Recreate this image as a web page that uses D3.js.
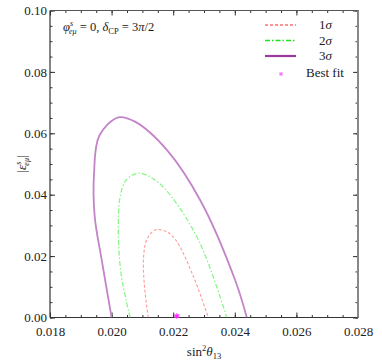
<!DOCTYPE html>
<html>
<head>
<meta charset="utf-8">
<script src="https://cdn.jsdelivr.net/npm/d3@7"></script>
<style>
body { margin: 0; background: #fff; }
svg text { font-family: "Liberation Serif", "DejaVu Serif", serif; }
</style>
</head>
<body>
<svg id="chart" width="382" height="363"></svg>
<script>
// contour points: [sin^2 theta13, |eps|]
var sigma1 = [[0.02119,0],[0.02106,0.0110],[0.02104,0.0200],[0.02115,0.0255],[0.02141,0.0285],
	[0.02178,0.0280],[0.02210,0.0250],[0.02265,0.0135],[0.02314,0]];
var sigma2 = [[0.02060,0],[0.02031,0.0140],[0.02022,0.0280],[0.02028,0.0395],
	[0.02047,0.0447],[0.02087,0.0470],[0.02141,0.0448],[0.02195,0.0393],
	[0.02287,0.0242],[0.02374,0]];
var sigma3 = [[0.02000,0],[0.01968,0.0187],[0.01945,0.0330],[0.01943,0.0470],
	[0.01960,0.0592],[0.02022,0.0652],[0.02076,0.0638],
	[0.02182,0.0543],[0.02290,0.0378],[0.02401,0.0122],[0.02439,0]];
var bestFit = [0.02212, 0];
var xTicks = [0.018, 0.020, 0.022, 0.024, 0.026, 0.028];
var yTicks = [0.00, 0.02, 0.04, 0.06, 0.08, 0.10];
var legendLabels = ["1σ", "2σ", "3σ"];

var svg = d3.select("svg#chart"),
	margin = {top: 10.5, right: 24, bottom: 45.5, left: 50},
	width = +svg.attr("width") - margin.left - margin.right,
	height = +svg.attr("height") - margin.top - margin.bottom;
var g = svg.append("g").attr("transform", "translate(" + margin.left + "," + margin.top + ")");

var x = d3.scaleLinear().domain([0.018, 0.028]).range([0, width]);
var y = d3.scaleLinear().domain([0, 0.10]).range([height, 0]);

g.append("defs").append("clipPath").attr("id", "clip")
  .append("rect").attr("width", width).attr("height", height);

var minorX = d3.range(0.018, 0.02801, 0.0005),
	minorY = d3.range(0, 0.1001, 0.005);

function tickAxis(axis, ticks, size, fmt) {
	return axis.tickValues(ticks).tickSize(size).tickSizeOuter(0).tickFormat(fmt);
}
var styleAxis = function(sel) {
	sel.select(".domain").remove();
	sel.selectAll("line").attr("stroke", "#333");
	sel.selectAll("text").style("font-size", "13px").attr("fill", "#222");
};

g.append("g").attr("transform", "translate(0," + height + ")")
	.call(tickAxis(d3.axisBottom(x), xTicks, -5, d3.format(".3f")).tickPadding(9)).call(styleAxis);
g.append("g").attr("transform", "translate(0," + height + ")")
	.call(tickAxis(d3.axisBottom(x), minorX, -2.5, "")).call(styleAxis);
g.append("g").call(tickAxis(d3.axisTop(x), xTicks, -5, "")).call(styleAxis);
g.append("g").call(tickAxis(d3.axisTop(x), minorX, -2.5, "")).call(styleAxis);

g.append("g").call(tickAxis(d3.axisLeft(y), yTicks, -5, d3.format(".2f")).tickPadding(3)).call(styleAxis);
g.append("g").call(tickAxis(d3.axisLeft(y), minorY, -2.5, "")).call(styleAxis);
g.append("g").attr("transform", "translate(" + width + ",0)")
	.call(tickAxis(d3.axisRight(y), yTicks, -5, "")).call(styleAxis);
g.append("g").attr("transform", "translate(" + width + ",0)")
	.call(tickAxis(d3.axisRight(y), minorY, -2.5, "")).call(styleAxis);

// frame
g.append("line").attr("x1", 0).attr("x2", width).attr("y1", height).attr("y2", height).attr("stroke", "#333").attr("stroke-width", 1.2);
g.append("line").attr("x1", 0).attr("x2", 0).attr("y1", 0).attr("y2", height).attr("stroke", "#333").attr("stroke-width", 1.2);
g.append("line").attr("x1", 0).attr("x2", width).attr("y1", 0).attr("y2", 0).attr("stroke", "#555").attr("stroke-width", 1.2);
g.append("line").attr("x1", width).attr("x2", width).attr("y1", 0).attr("y2", height).attr("stroke", "#888").attr("stroke-width", 2);

var line = d3.line()
	.x(function(d) { return x(d[0]); })
	.y(function(d) { return y(d[1]); })
	.curve(d3.curveCatmullRom.alpha(0.5));

var series = [
	{data: sigma1, color: "#ff9a9a", legend: "#ff6f6f", dash: "3,2", width: 1.1},
	{data: sigma2, color: "#8af58a", legend: "#22e022", dash: "5,2,1.5,2", width: 1.3},
	{data: sigma3, color: "#c384c9", legend: "#9b3a9e", dash: null, width: 1.8}
];

var plot = g.append("g").attr("clip-path", "url(#clip)");
series.forEach(function(s) {
	plot.append("path").datum(s.data)
		.attr("d", line)
		.attr("fill", "none")
		.attr("stroke", s.color)
		.attr("stroke-width", s.width)
		.attr("stroke-dasharray", s.dash);
});

var star = d3.symbol().type(d3.symbolAsterisk);
g.append("path")
	.attr("transform", "translate(" + x(bestFit[0]) + "," + (y(bestFit[1]) - 1.5) + ")")
	.attr("d", star.size(22)()).attr("fill", "none").attr("stroke", "#ff22ff").attr("stroke-width", 1.2);

// legend
var leg = svg.append("g");
series.forEach(function(s, i) {
	var ly = 25 + i * 15.5;
	leg.append("line").attr("x1", 265).attr("x2", 296).attr("y1", ly).attr("y2", ly)
		.attr("stroke", s.legend).attr("stroke-width", i == 2 ? 2.2 : 1.3).attr("stroke-dasharray", s.dash);
	var t = leg.append("text").attr("x", 319).attr("y", ly + 4).style("font-size", "13px").style("fill", "#222");
	t.append("tspan").text(legendLabels[i].charAt(0));
	t.append("tspan").style("font-style", "italic").text(legendLabels[i].charAt(1));
});
leg.append("path").attr("transform", "translate(281,74)")
	.attr("d", star.size(12)()).attr("fill", "none").attr("stroke", "#ff66ff").attr("stroke-width", 1);
leg.append("text").attr("x", 306).attr("y", 77).style("font-size", "13px").style("fill", "#222").text("Best fit");

// annotation
var ann = svg.append("text").attr("x", 63).attr("y", 31).style("font-size", "12.5px").style("fill", "#222");
ann.append("tspan").style("font-style", "italic").text("φ");
ann.append("tspan").attr("dy", -5).style("font-size", "8px").style("font-style", "italic").text("s");
ann.append("tspan").attr("dx", -4).attr("dy", 8).style("font-size", "8px").style("font-style", "italic").text("eμ");
ann.append("tspan").attr("dy", -3).text(" = 0, ");
ann.append("tspan").style("font-style", "italic").text("δ");
ann.append("tspan").attr("dy", 3).style("font-size", "8.5px").text("CP");
ann.append("tspan").attr("dy", -3).text(" = 3");
ann.append("tspan").style("font-style", "italic").text("π");
ann.append("tspan").text("/2");

// axis titles
var xl = svg.append("text").attr("x", 204).attr("y", 356).attr("text-anchor", "middle").style("font-size", "13px").style("fill", "#222");
xl.append("tspan").text("sin");
xl.append("tspan").attr("dy", -5).style("font-size", "8.5px").text("2");
xl.append("tspan").attr("dy", 5).style("font-style", "italic").text("θ");
xl.append("tspan").attr("dy", 3).style("font-size", "8.5px").text("13");

var yl = svg.append("text").attr("transform", "translate(26,164) rotate(-90)").attr("text-anchor", "middle").style("font-size", "13px").style("fill", "#222");
yl.append("tspan").text("|");
yl.append("tspan").style("font-style", "italic").text("ε");
yl.append("tspan").attr("dy", -5).style("font-size", "8px").style("font-style", "italic").text("s");
yl.append("tspan").attr("dx", -4).attr("dy", 8).style("font-size", "8px").style("font-style", "italic").text("eμ");
yl.append("tspan").attr("dy", -3).text("|");
</script>
</body>
</html>
